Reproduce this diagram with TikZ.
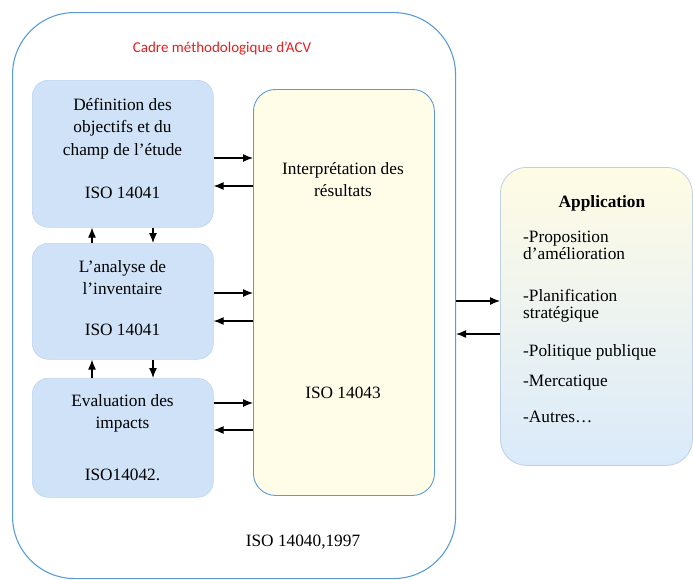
\documentclass[tikz,border=0pt]{standalone}
\usepackage{fontspec}
\setmainfont{Liberation Serif}
\newfontfamily\calfont{Carlito}
\usetikzlibrary{arrows.meta}
\definecolor{outerblue}{RGB}{91,155,213}
\definecolor{boxblue}{RGB}{207,226,247}
\definecolor{boxedge}{RGB}{190,212,238}
\definecolor{interpfill}{RGB}{255,253,232}
\definecolor{appedge}{RGB}{190,208,228}
\definecolor{apptop}{RGB}{255,252,228}
\definecolor{appbot}{RGB}{218,234,251}
\definecolor{titlered}{RGB}{230,30,30}
\begin{document}
\begin{tikzpicture}[x=1pt,y=-1pt,
  txt/.style={font=\fontsize{17.3}{22.5}\selectfont, inner sep=0, align=center},
  itm/.style={font=\fontsize{17.3}{17}\selectfont, inner sep=0, align=left, anchor=west},
  phase/.style={draw=boxedge, fill=boxblue, rounded corners=16, line width=0.6, anchor=north west, inner sep=0, minimum width=181},
  arr/.style={-{Latex[length=10,width=8]}, line width=1.2}]
\useasboundingbox (0,0) rectangle (693,579);

% outer frame
\node[draw=outerblue, line width=1.1, rounded corners=62, anchor=north west, inner sep=0,
      minimum width=443, minimum height=566] (outer) at (12,12) {};
\node[inner sep=0, font=\calfont\fontsize{15}{17}\selectfont, text=titlered] (title) at (222,48) {Cadre méthodologique d’ACV};

% phase boxes
\node[phase, minimum height=147] (def) at (32,80) {};
\node[phase, minimum height=116] (inv) at (32,243) {};
\node[phase, minimum height=119] (eva) at (32,378) {};
\node[draw=outerblue, fill=interpfill, line width=0.9, rounded corners=22, anchor=north west, inner sep=0,
      minimum width=181, minimum height=406] (interp) at (253,89) {};

% texts
\node[txt] (deft) at (122.5,128.5) {Définition des\\objectifs et du\\champ de l’étude};
\node[txt] (defi) at (122.5,193) {ISO 14041};
\node[txt] (invt) at (122.5,277.5) {L’analyse de\\l’inventaire};
\node[txt] (invi) at (122.5,330) {ISO 14041};
\node[txt] (evat) at (122.5,413.5) {Evaluation des\\impacts};
\node[txt] (evai) at (122.5,475) {ISO14042.};
\node[txt] (intt) at (343,179.5) {Interprétation des\\résultats};
\node[txt] (inti) at (343,393) {ISO 14043};
\node[txt] (iso) at (303,542) {ISO 14040,1997};

% application box
\node[draw=appedge, top color=apptop, bottom color=appbot, line width=0.8, rounded corners=26,
      anchor=north west, inner sep=0, minimum width=192, minimum height=298] (app) at (500,167) {};
\node[txt, font=\bfseries\fontsize{17.3}{22.5}\selectfont] (appt) at (602,203) {Application};
\node[itm] (a1) at (523,245.5) {-Proposition\\d’amélioration};
\node[itm] (a2) at (523,305.5) {-Planification\\stratégique};
\node[itm] (a3) at (523,352) {-Politique publique};
\node[itm] (a4) at (523,383) {-Mercatique};
\node[itm] (a5) at (523,417) {-Autres…};

% horizontal arrows
\draw[arr] (def.east |- 0,158) -- (interp.west |- 0,158);
\draw[arr] (interp.west |- 0,186) -- (def.east |- 0,186);
\draw[arr] (inv.east |- 0,293) -- (interp.west |- 0,293);
\draw[arr] (interp.west |- 0,321) -- (inv.east |- 0,321);
\draw[arr] (eva.east |- 0,403) -- (interp.west |- 0,403);
\draw[arr] (interp.west |- 0,430) -- (eva.east |- 0,430);
\draw[arr] (outer.east |- 0,301) -- (app.west |- 0,301);
\draw[arr] (app.west |- 0,334) -- (outer.east |- 0,334);

% vertical arrows
\draw[arr] (inv.north -| 92,0) -- (def.south -| 92,0);
\draw[arr] (def.south -| 153,0) -- (inv.north -| 153,0);
\draw[arr] (eva.north -| 92,0) -- (inv.south -| 92,0);
\draw[arr] (inv.south -| 153,0) -- (eva.north -| 153,0);
\end{tikzpicture}
\end{document}
